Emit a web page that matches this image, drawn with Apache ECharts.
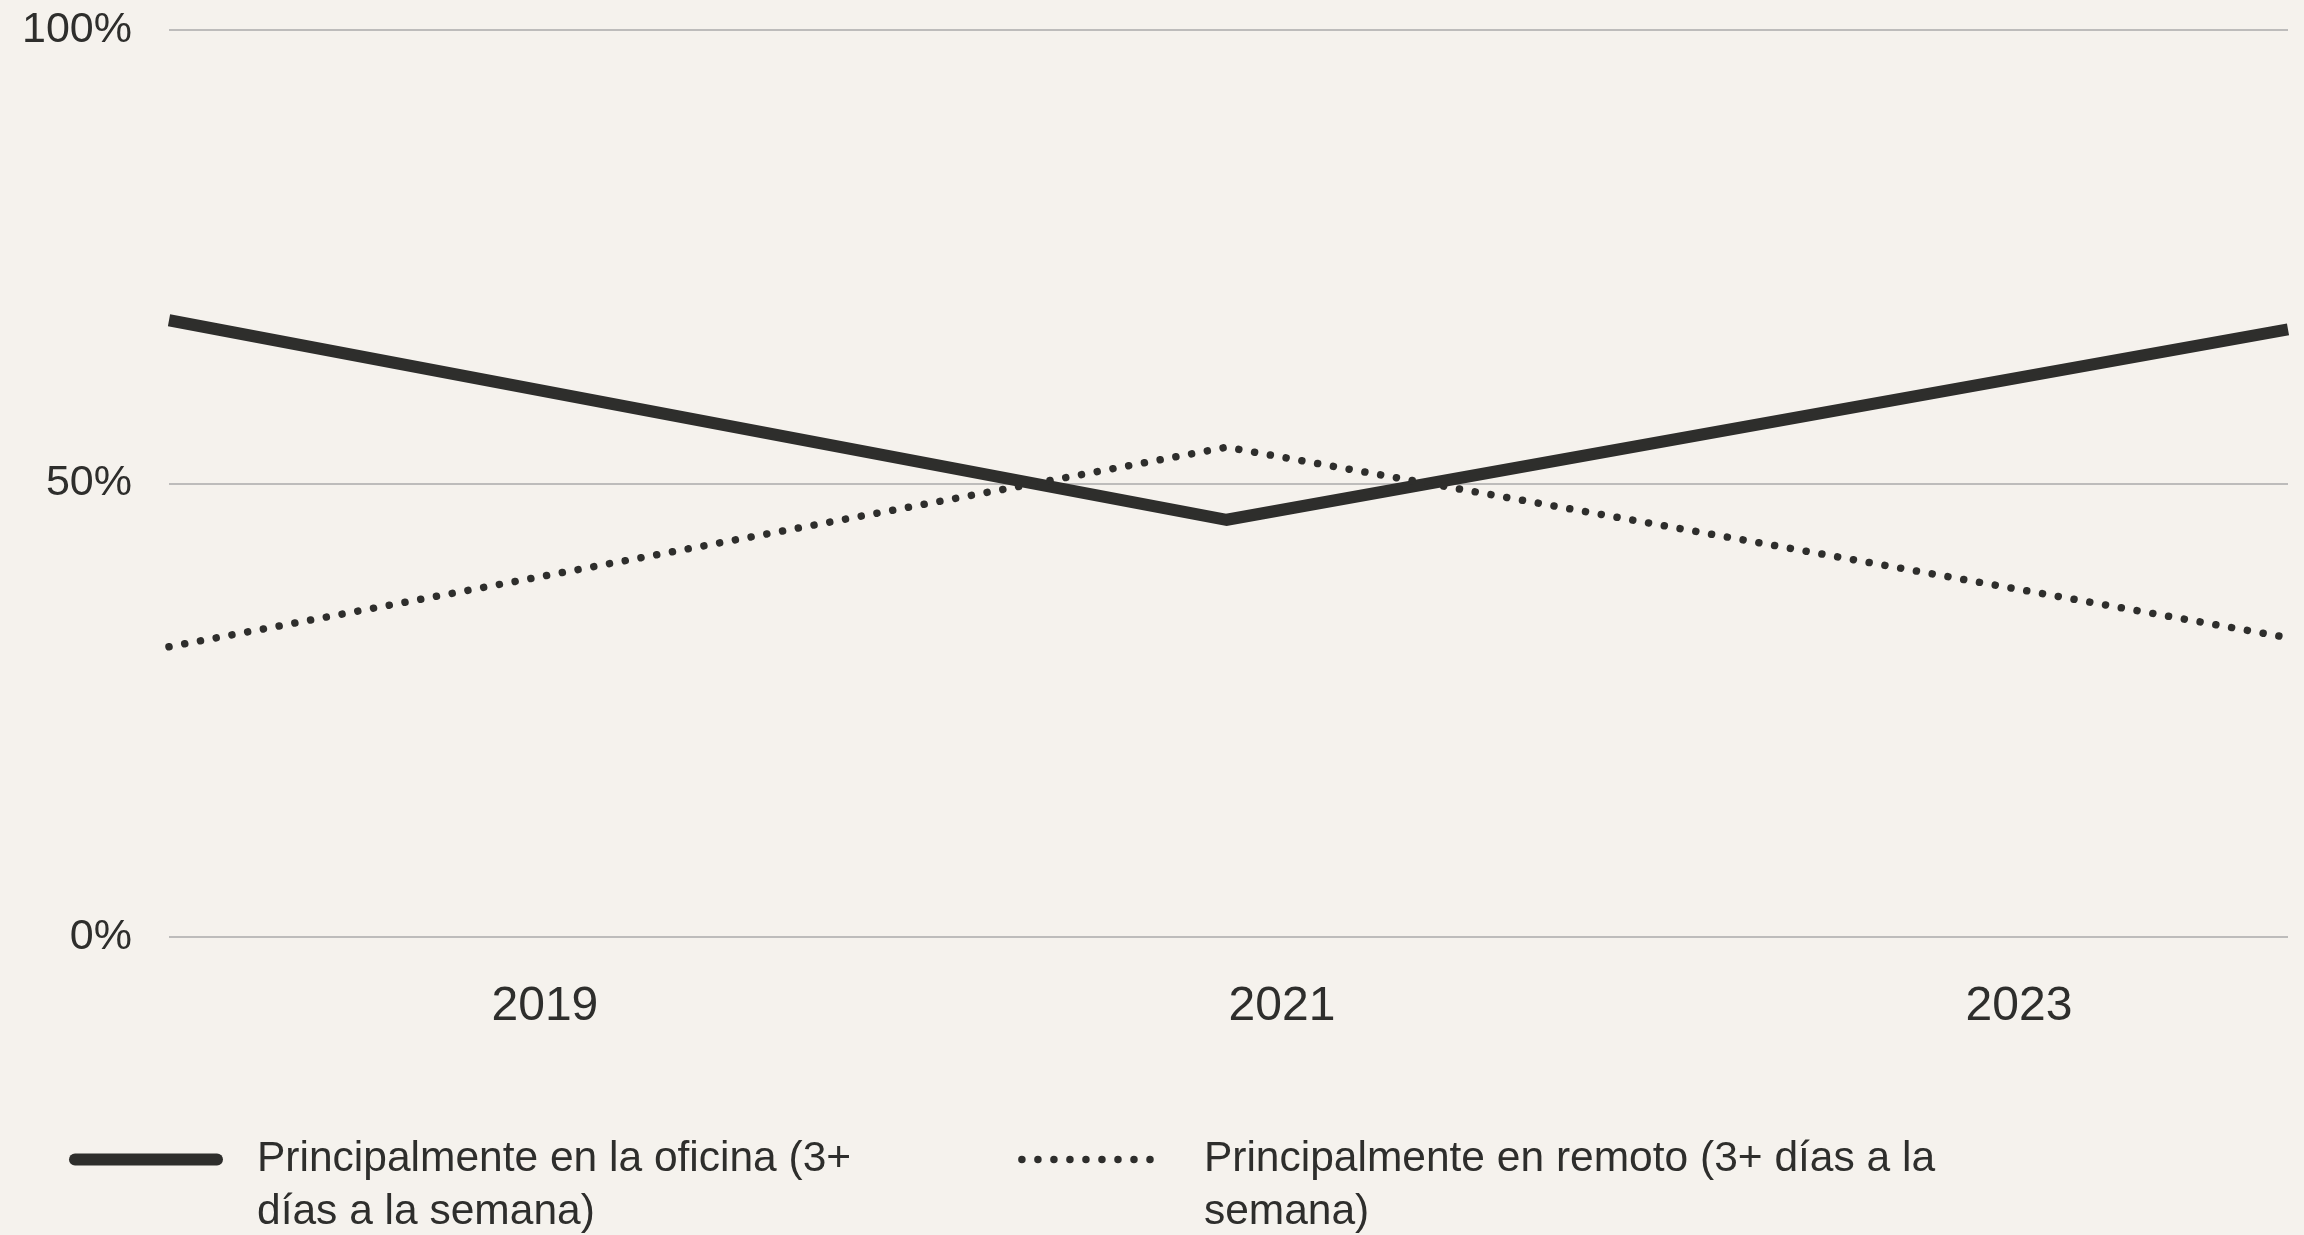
<!DOCTYPE html>
<html>
<head>
<meta charset="utf-8">
<script src="https://cdn.jsdelivr.net/npm/echarts@6/dist/echarts.min.js"></script>
<style>
html,body{margin:0;padding:0;background:#f5f2ed;}
#chart{width:2304px;height:1235px;}
</style>
</head>
<body>
<div id="chart"></div>
<script>
// Survey periods (position on the year axis) and values in %
const periods = [2017.98, 2020.85, 2023.73];
const officeValues = [68, 46, 67];
const remoteValues = [32, 54, 33];
const yearTicks = [2019, 2021, 2023];
const yTicks = [0, 50, 100];
const seriesNames = [
  'Principalmente en la oficina (3+ días a la semana)',
  'Principalmente en remoto (3+ días a la semana)'
];
const legendLabels = [
  'Principalmente en la oficina (3+\ndías a la semana)',
  'Principalmente en remoto (3+ días a la\nsemana)'
];

const INK = '#2e2e2c';
const FONT = '"Liberation Sans", Arial, Helvetica, sans-serif';

const chart = echarts.init(document.getElementById('chart'), null, {renderer: 'canvas'});
chart.setOption({
  backgroundColor: '#f5f2ed',
  animation: false,
  textStyle: {fontFamily: FONT, color: INK},
  grid: {left: 169, right: 16, top: 30, bottom: 298, containLabel: false},
  xAxis: {
    type: 'value',
    min: periods[0],
    max: periods[periods.length - 1],
    axisLine: {show: false},
    axisTick: {show: false},
    splitLine: {show: false},
    axisLabel: {
      customValues: yearTicks,
      formatter: v => String(Math.round(v)),
      fontSize: 48,
      fontFamily: FONT,
      color: INK,
      margin: 46
    }
  },
  yAxis: {
    type: 'value',
    min: yTicks[0],
    max: yTicks[yTicks.length - 1],
    interval: 50,
    axisLine: {show: false},
    axisTick: {show: false},
    splitLine: {lineStyle: {color: '#aaaaaa', width: 1.5}},
    axisLabel: {
      formatter: v => v + '%',
      fontSize: 43,
      fontFamily: FONT,
      color: INK,
      margin: 37,
      padding: [6, 0, 0, 0]
    }
  },
  legend: {
    left: 64,
    top: 1075,
    itemWidth: 142,
    itemHeight: 14,
    itemGap: 167,
    formatter: name => '\n' + legendLabels[seriesNames.indexOf(name)],
    itemStyle: {opacity: 0},
    textStyle: {
      fontSize: 42.5,
      lineHeight: 53,
      fontFamily: FONT,
      color: INK,
      padding: [0, 0, 0, 35]
    },
    data: [
      {
        name: seriesNames[0],
        itemStyle: {opacity: 0},
        lineStyle: {color: INK, width: 12, type: 'solid', cap: 'round'}
      },
      {
        name: seriesNames[1],
        itemStyle: {opacity: 0},
        lineStyle: {color: INK, width: 7.5, type: [0.01, 16], cap: 'round'}
      }
    ]
  },
  series: [
    {
      name: seriesNames[0],
      type: 'line',
      symbol: 'none',
      data: periods.map((p, i) => [p, officeValues[i]]),
      lineStyle: {color: INK, width: 12, cap: 'butt', join: 'miter'},
      itemStyle: {color: INK}
    },
    {
      name: seriesNames[1],
      type: 'line',
      symbol: 'none',
      data: periods.map((p, i) => [p, remoteValues[i]]),
      lineStyle: {color: INK, width: 7.5, type: [0.01, 16], cap: 'round'},
      itemStyle: {color: INK}
    }
  ]
});
</script>
</body>
</html>
